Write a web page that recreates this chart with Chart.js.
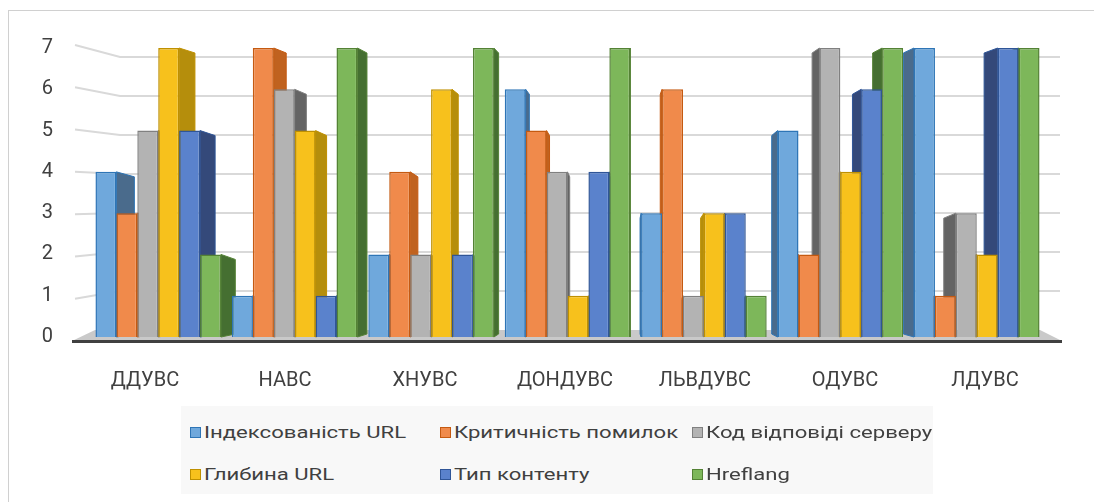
<!DOCTYPE html>
<html><head><meta charset="utf-8">
<script src="https://cdn.jsdelivr.net/npm/chart.js@4"></script>
<style>
html,body{margin:0;padding:0;background:#fff;}
#wrap{position:relative;width:1094px;height:502px;overflow:hidden;}
#frame{position:absolute;left:8px;top:10px;width:1100px;height:500px;border:1px solid #d0d0d0;box-sizing:border-box;}
canvas{position:absolute;left:0;top:0;}
#legend{position:absolute;left:181px;top:406px;width:752px;height:88px;background:#f8f8f8;font-family:Roboto,'Open Sans',sans-serif;font-size:17px;color:#404040;}
.li{position:absolute;display:flex;align-items:center;white-space:nowrap;height:20px;}
.sw{width:9px;height:9px;border:1.5px solid;margin-right:3px;flex:none;}
.tx{display:inline-block;transform:scaleX(1.3);transform-origin:0 50%;}
</style></head>
<body>
<div id="wrap">
<div id="frame"></div>
<canvas id="c" width="1094" height="502"></canvas>
<div id="legend"></div>
</div>
<script>
const categories = ['ДДУВС','НАВС','ХНУВС','ДОНДУВС','ЛЬВДУВС','ОДУВС','ЛДУВС'];
const seriesNames = ['Індексованість URL','Критичність помилок','Код відповіді серверу','Глибина URL','Тип контенту','Hreflang'];
const indexation = [4,1,2,6,3,5,7];
const criticality = [3,7,4,5,6,2,1];
const serverCode = [5,6,2,4,1,7,3];
const urlDepth = [7,5,6,1,3,4,2];
const contentType = [5,1,2,4,3,6,7];
const hreflang = [2,7,7,7,1,7,7];
const yTicks = [0,1,2,3,4,5,6,7];
const fills = ['#6FA8DC','#F08A4B','#B3B3B3','#F7C11C','#5A82CC','#7DB75A'];
const borders = ['#2E75B6','#C55A11','#808080','#BF9000','#2F5597','#548235'];
const sides = ['#4a6b8c','#c0621f','#646464','#b58e0c','#34497a','#456f31'];
const values = [indexation,criticality,serverCode,urlDepth,contentType,hreflang];

const datasets = seriesNames.map((n,i)=>({label:n,data:values[i],backgroundColor:fills[i],borderColor:borders[i],borderWidth:1.5,sideColor:sides[i],xAxisID:'x'}));

const threeD = {
  id:'threeD',
  beforeDatasetsDraw(chart){
    const ctx=chart.ctx, y=chart.scales.y, ca=chart.chartArea;
    const y0=y.getPixelForValue(0), y7=y.getPixelForValue(7);
    ctx.save();
    // gridlines: front (at tick labels) slanting to the back wall
    ctx.strokeStyle='#d9d9d9'; ctx.lineWidth=2;
    yTicks.forEach(v=>{
      if(v===0) return;
      const yf = (y0+4) - ((y0+4)-(y7-3))*v/7;
      const yb = (y0-7) - ((y0-7)-(y7+9))*v/7;
      ctx.beginPath(); ctx.moveTo(ca.left-15,yf); ctx.lineTo(ca.left+30,yb); ctx.lineTo(ca.right+15,yb); ctx.stroke();
    });
    // floor
    ctx.fillStyle='#c9c9c9';
    ctx.beginPath(); ctx.moveTo(ca.left-18,y0+4); ctx.lineTo(ca.left+5,y0-7); ctx.lineTo(ca.right-5,y0-7); ctx.lineTo(ca.right+17,y0+4); ctx.closePath(); ctx.fill();
    ctx.fillStyle='#404040'; ctx.fillRect(ca.left-18,y0+3,ca.right+17-(ca.left-18),3);
    // side faces (perspective toward a vanishing point)
    const vx=620;
    chart.data.datasets.forEach((ds,di)=>{
      chart.getDatasetMeta(di).data.forEach(b=>{
        const w=b.width, l=b.x-w/2, r=b.x+w/2;
        const dx=-(b.x-vx)*0.035;
        const ex = dx>=0 ? r : l;
        ctx.fillStyle=ds.sideColor; ctx.strokeStyle=ds.borderColor; ctx.lineWidth=1;
        ctx.beginPath(); ctx.moveTo(ex,b.y); ctx.lineTo(ex+dx,b.y+5); ctx.lineTo(ex+dx,y0-3); ctx.lineTo(ex,y0); ctx.closePath(); ctx.fill(); ctx.stroke();
      });
    });
    ctx.restore();
  }
};

new Chart(document.getElementById('c'),{
  type:'bar',
  data:{labels:categories,datasets},
  options:{
    responsive:false,animation:false,
    layout:{padding:{left:20,right:49,top:48,bottom:0}},
    datasets:{bar:{categoryPercentage:0.92,barPercentage:1.0}},
    plugins:{legend:{display:false},tooltip:{enabled:false}},
    scales:{
      x:{grid:{display:false},border:{display:false},ticks:{display:false},
         afterFit(s){s.height=0;}},
      xl:{type:'linear',position:'bottom',offset:false,grid:{display:false},border:{display:false},
         min:-0.393,max:6.429,
         afterBuildTicks(s){s.ticks=categories.map((c,i)=>({value:i}));},
         ticks:{color:'#404040',font:{family:"Roboto,'Open Sans',sans-serif",size:20},padding:24,maxRotation:0,autoSkip:false,
                callback:(v)=>categories[v]},
         afterFit(s){s.height=165;}},
      y:{min:0,max:7,grid:{display:false},border:{display:false},
         afterBuildTicks(s){s.ticks=yTicks.map(v=>({value:v}));},
         ticks:{color:'#404040',font:{family:"Roboto,'Open Sans',sans-serif",size:20},padding:29},
         afterFit(s){s.width=70;}}
    }
  },
  plugins:[threeD]
});

const lg=document.getElementById('legend');
const colX=[9,259,511], rowY=[26,68];
seriesNames.forEach((n,i)=>{
  const d=document.createElement('div'); d.className='li';
  d.style.left=colX[i%3]+'px'; d.style.top=(rowY[Math.floor(i/3)]-10)+'px';
  d.innerHTML='<span class="sw" style="background:'+fills[i]+';border-color:'+borders[i]+'"></span><span class="tx">'+n+'</span>';
  lg.appendChild(d);
});
</script>
</body></html>
